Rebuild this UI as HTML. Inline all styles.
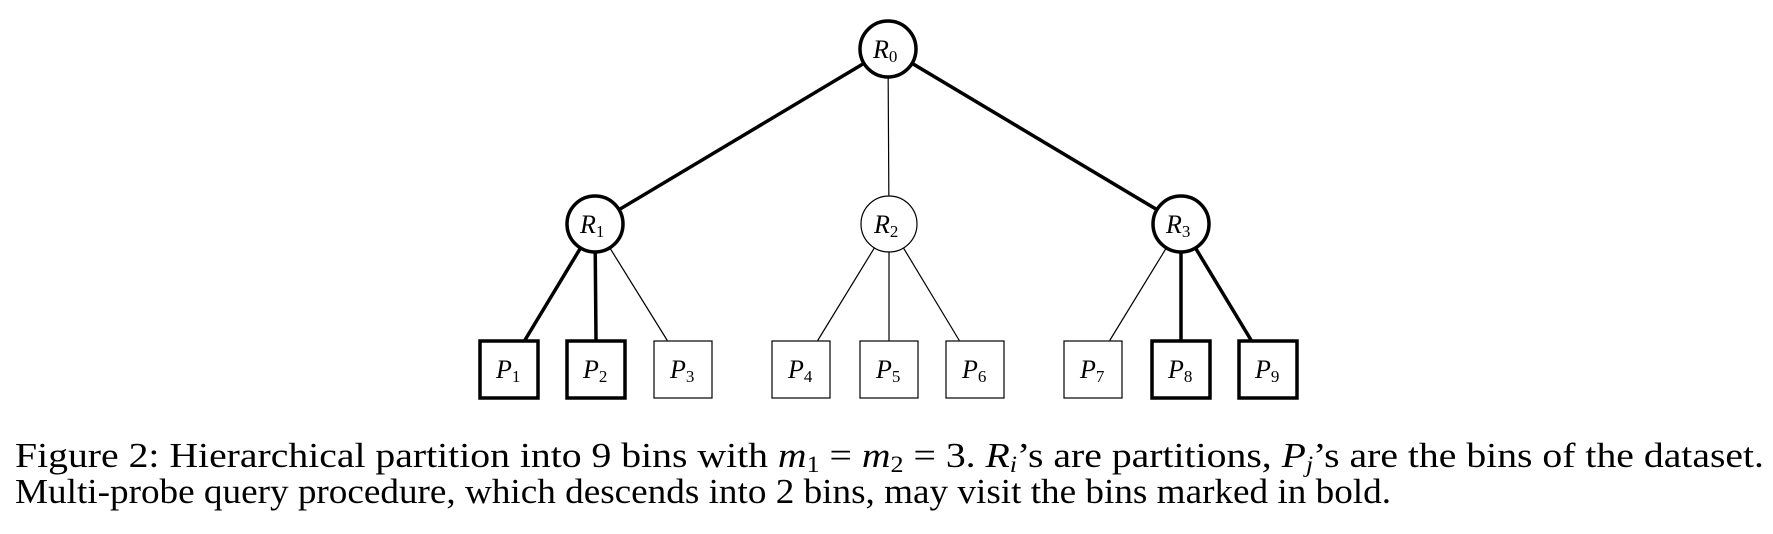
<!DOCTYPE html>
<html><head><meta charset="utf-8"><style>
html,body{margin:0;padding:0;background:#fff;}
svg{display:block;}
</style></head><body>
<svg width="1773" height="534" viewBox="0 0 1773 534" xmlns="http://www.w3.org/2000/svg">
<g stroke="#000" fill="none" stroke-linecap="round">
  <line x1="888" y1="49" x2="595" y2="224" stroke-width="3.5"/>
  <line x1="888" y1="49" x2="889" y2="224" stroke-width="1.2"/>
  <line x1="888" y1="49" x2="1181" y2="224" stroke-width="3.5"/>
  <line x1="595" y1="224" x2="525" y2="340" stroke-width="3.5"/>
  <line x1="595" y1="224" x2="596" y2="340" stroke-width="3.5"/>
  <line x1="595" y1="224" x2="667" y2="340" stroke-width="1.2"/>
  <line x1="889" y1="224" x2="818" y2="340" stroke-width="1.2"/>
  <line x1="889" y1="224" x2="889" y2="340" stroke-width="1.2"/>
  <line x1="889" y1="224" x2="959" y2="340" stroke-width="1.2"/>
  <line x1="1181" y1="224" x2="1110" y2="340" stroke-width="1.2"/>
  <line x1="1181" y1="224" x2="1181" y2="340" stroke-width="3.5"/>
  <line x1="1181" y1="224" x2="1251" y2="340" stroke-width="3.5"/>
</g>
<g stroke="#000" fill="#fff">
  <circle cx="888" cy="49" r="28" stroke-width="3.5"/>
  <circle cx="595" cy="224" r="28" stroke-width="3.5"/>
  <circle cx="889" cy="224" r="28" stroke-width="1.2"/>
  <circle cx="1181" cy="224" r="28" stroke-width="3.5"/>
  <rect x="480" y="341" width="58" height="57" stroke-width="3.5"/>
  <rect x="567" y="341" width="58" height="57" stroke-width="3.5"/>
  <rect x="654" y="341" width="58" height="57" stroke-width="1.2"/>
  <rect x="772" y="341" width="58" height="57" stroke-width="1.2"/>
  <rect x="860" y="341" width="58" height="57" stroke-width="1.2"/>
  <rect x="946" y="341" width="58" height="57" stroke-width="1.2"/>
  <rect x="1064" y="341" width="58" height="57" stroke-width="1.2"/>
  <rect x="1152" y="341" width="58" height="57" stroke-width="3.5"/>
  <rect x="1239" y="341" width="58" height="57" stroke-width="3.5"/>
</g>
<g font-family="Liberation Serif, serif" font-style="italic" font-size="26" fill="#000">
  <text x="873" y="58">R<tspan font-style="normal" font-size="17" dy="4">0</tspan></text>
  <text x="580" y="233">R<tspan font-style="normal" font-size="17" dy="4">1</tspan></text>
  <text x="874" y="233">R<tspan font-style="normal" font-size="17" dy="4">2</tspan></text>
  <text x="1166" y="233">R<tspan font-style="normal" font-size="17" dy="4">3</tspan></text>
  <text x="496" y="378">P<tspan font-style="normal" font-size="17" dy="4">1</tspan></text>
  <text x="583" y="378">P<tspan font-style="normal" font-size="17" dy="4">2</tspan></text>
  <text x="670" y="378">P<tspan font-style="normal" font-size="17" dy="4">3</tspan></text>
  <text x="788" y="378">P<tspan font-style="normal" font-size="17" dy="4">4</tspan></text>
  <text x="876" y="378">P<tspan font-style="normal" font-size="17" dy="4">5</tspan></text>
  <text x="962" y="378">P<tspan font-style="normal" font-size="17" dy="4">6</tspan></text>
  <text x="1080" y="378">P<tspan font-style="normal" font-size="17" dy="4">7</tspan></text>
  <text x="1168" y="378">P<tspan font-style="normal" font-size="17" dy="4">8</tspan></text>
  <text x="1255" y="378">P<tspan font-style="normal" font-size="17" dy="4">9</tspan></text>
</g>
<g font-family="Liberation Serif, serif" font-size="35" fill="#000">
  <text x="15" y="467" textLength="1749" lengthAdjust="spacingAndGlyphs">Figure 2: Hierarchical partition into 9 bins with <tspan font-style="italic">m</tspan><tspan font-size="23" dy="5">1</tspan><tspan dy="-5"> = </tspan><tspan font-style="italic">m</tspan><tspan font-size="23" dy="5">2</tspan><tspan dy="-5"> = 3. </tspan><tspan font-style="italic">R</tspan><tspan font-style="italic" font-size="23" dy="5">i</tspan><tspan dy="-5">’s are partitions, </tspan><tspan font-style="italic">P</tspan><tspan font-style="italic" font-size="23" dy="5">j</tspan><tspan dy="-5">’s are the bins of the dataset.</tspan></text>
  <text x="15" y="503" textLength="1376" lengthAdjust="spacingAndGlyphs">Multi-probe query procedure, which descends into 2 bins, may visit the bins marked in bold.</text>
</g>
</svg>
</body></html>
